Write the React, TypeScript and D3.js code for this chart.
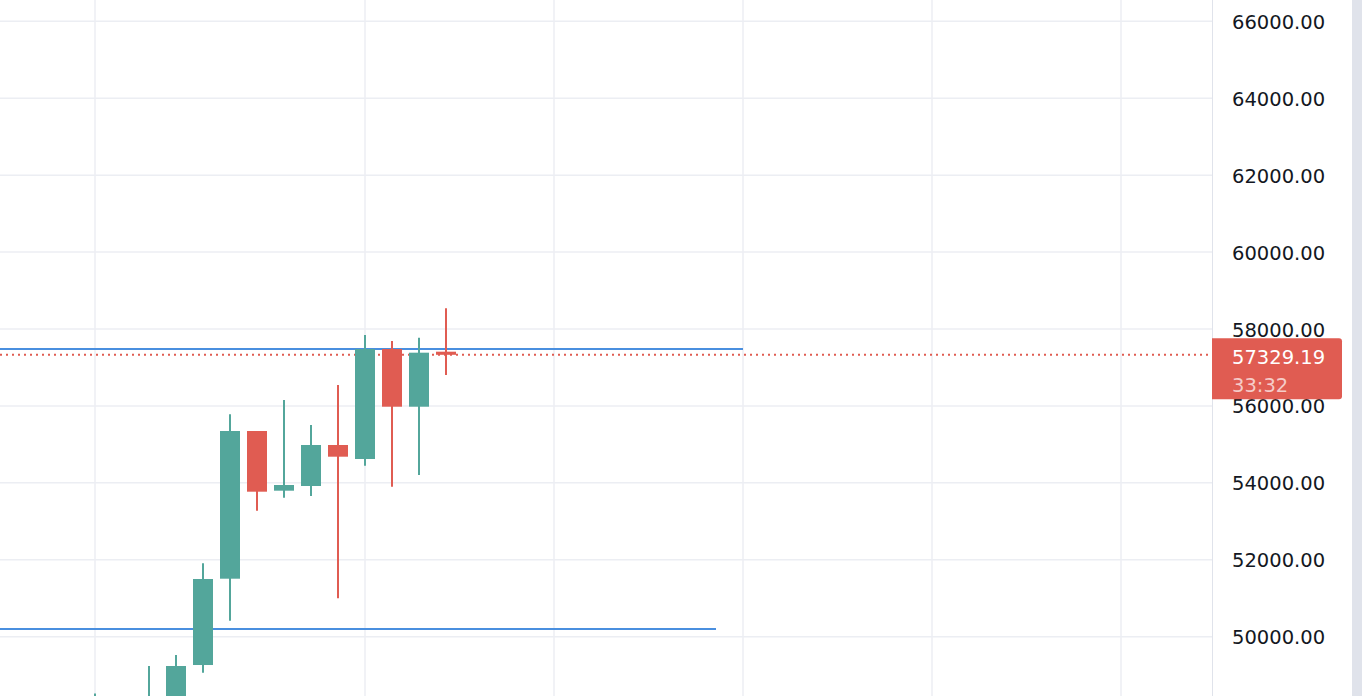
import React, { useEffect, useRef } from 'react';
import * as d3 from 'd3';

// candle data, one entry per bar (index = bar position)
const opens = [47600, 47900, 47800, 48300, 49264, 51508, 55348, 53796, 53918, 54984, 54620, 57480, 55980, 57410];
const highs = [48520, 48300, 49238, 49524, 51908, 55782, 55348, 56154, 55504, 56544, 57844, 57688, 57774, 58538];
const lows = [47200, 47300, 47600, 48100, 49064, 50416, 53276, 53614, 53658, 50998, 54446, 53900, 54204, 56804];
const closes = [47900, 47800, 48380, 49238, 51500, 55348, 53770, 53944, 54984, 54680, 57480, 55980, 57384, 57329.19];

// horizontal drawn levels and the bar index where each stops
const levelPrices = [57480, 50200];
const levelEnds = [24, 23];

// vertical grid (time marks) at bar indices
const timeGridIdx = [0, 10, 17, 24, 31, 38];
const priceTicks = d3.range(50000, 66001, 2000);

const lastPrice = 57329.19;
const countdown = '33:32';

const W = 1362;
const H = 696;
const AXIS_X = 1212;
const UP = '#53a69b';
const DOWN = '#e05c52';
const FONT = '"DejaVu Sans", sans-serif';

export default function App() {
  const svgRef = useRef<SVGSVGElement>(null);

  useEffect(() => {
    if (!svgRef.current) return;
    const svg = d3.select(svgRef.current);
    svg.selectAll('*').remove();

    const x = d3.scaleLinear().domain([0, 38]).range([95, 95 + 38 * 27]);
    const y = d3.scaleLinear().domain([50000, 66000]).range([636.7, 21.3]);

    svg.append('rect').attr('width', W).attr('height', H).attr('fill', '#ffffff');

    const plot = svg.append('g');

    // grid
    plot.selectAll('.hgrid')
      .data(priceTicks)
      .enter()
      .append('line')
      .attr('x1', 0)
      .attr('x2', AXIS_X)
      .attr('y1', d => y(d))
      .attr('y2', d => y(d))
      .attr('stroke', '#eceef3')
      .attr('stroke-width', 1.5);

    plot.selectAll('.vgrid')
      .data(timeGridIdx)
      .enter()
      .append('line')
      .attr('x1', d => x(d))
      .attr('x2', d => x(d))
      .attr('y1', 0)
      .attr('y2', H)
      .attr('stroke', '#eceef3')
      .attr('stroke-width', 1.5);

    // last price dotted line
    plot.append('line')
      .attr('x1', 0)
      .attr('x2', AXIS_X)
      .attr('y1', y(lastPrice))
      .attr('y2', y(lastPrice))
      .attr('stroke', DOWN)
      .attr('stroke-width', 2)
      .attr('stroke-dasharray', '2,4');

    // drawn horizontal levels
    levelPrices.forEach((p, i) => {
      plot.append('line')
        .attr('x1', 0)
        .attr('x2', x(levelEnds[i]))
        .attr('y1', y(p))
        .attr('y2', y(p))
        .attr('stroke', '#4a8fdf')
        .attr('stroke-width', 2);
    });

    // candles
    const bw = 20;
    opens.forEach((o, i) => {
      const c = closes[i];
      const col = c >= o ? UP : DOWN;
      const cx = x(i);
      plot.append('line')
        .attr('x1', cx)
        .attr('x2', cx)
        .attr('y1', y(highs[i]))
        .attr('y2', y(lows[i]))
        .attr('stroke', col)
        .attr('stroke-width', 2);
      const top = y(Math.max(o, c));
      const bot = y(Math.min(o, c));
      plot.append('rect')
        .attr('x', cx - bw / 2)
        .attr('y', top)
        .attr('width', bw)
        .attr('height', Math.max(1, bot - top))
        .attr('fill', col);
    });

    // price axis
    const axis = svg.append('g');
    axis.append('rect')
      .attr('x', AXIS_X)
      .attr('y', 0)
      .attr('width', W - AXIS_X)
      .attr('height', H)
      .attr('fill', '#ffffff');
    axis.append('line')
      .attr('x1', AXIS_X + 0.5)
      .attr('x2', AXIS_X + 0.5)
      .attr('y1', 0)
      .attr('y2', H)
      .attr('stroke', '#e0e3eb')
      .attr('stroke-width', 1);
    axis.append('rect')
      .attr('x', 1352)
      .attr('y', 0)
      .attr('width', W - 1352)
      .attr('height', H)
      .attr('fill', '#e0e3eb');

    axis.selectAll('.tick')
      .data(priceTicks)
      .enter()
      .append('text')
      .attr('x', 1232)
      .attr('y', d => y(d) + 7.5)
      .attr('fill', '#131722')
      .style('font-family', FONT)
      .style('font-size', '19.5px')
      .text(d => d3.format('.2f')(d));

    // last price label
    const ly = y(lastPrice);
    axis.append('path')
      .attr('d', `M${AXIS_X},${ly - 16.5} H${1339} a3,3 0 0 1 3,3 V${ly + 41.5} a3,3 0 0 1 -3,3 H${AXIS_X} Z`)
      .attr('fill', DOWN);
    axis.append('text')
      .attr('x', 1232)
      .attr('y', ly + 9)
      .attr('fill', '#ffffff')
      .style('font-family', FONT)
      .style('font-size', '19.5px')
      .text(d3.format('.2f')(lastPrice));
    axis.append('text')
      .attr('x', 1232)
      .attr('y', ly + 37.5)
      .attr('fill', '#ffffff')
      .attr('fill-opacity', 0.7)
      .style('font-family', FONT)
      .style('font-size', '19.5px')
      .text(countdown);
  }, []);

  return (
    <div style={{ position: 'fixed', left: 0, top: 0, width: W, height: H, overflow: 'hidden' }}>
      <svg ref={svgRef} width={W} height={H} style={{ display: 'block' }} />
    </div>
  );
}
